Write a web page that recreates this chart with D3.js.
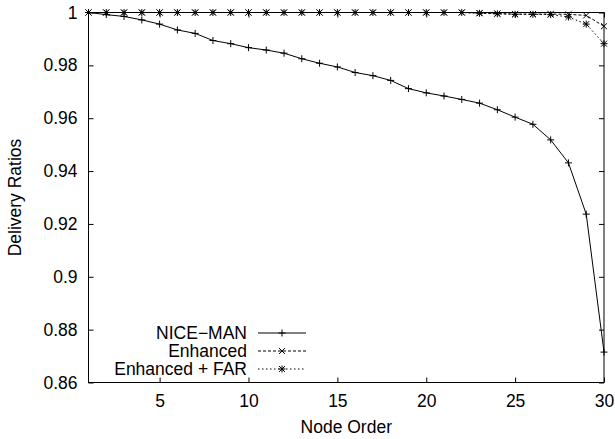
<!DOCTYPE html>
<html>
<head>
<meta charset="utf-8">
<script src="https://cdn.jsdelivr.net/npm/d3@7"></script>
<style>
  body { margin: 0; background: #fff; }
  text { font-family: "Liberation Sans", Arial, sans-serif; font-size: 17.5px; fill: #000; }
</style>
</head>
<body>
<svg id="chart"></svg>
<script>
// node order 1..30
var nodes = d3.range(1, 31);

// values
var niceMan = [1.0, 0.9992, 0.9985, 0.9972, 0.9956, 0.9934, 0.9921, 0.9894, 0.9882, 0.9867,
               0.9858, 0.9846, 0.9825, 0.9808, 0.9794, 0.9773, 0.9761, 0.9743, 0.9712, 0.9696,
               0.9684, 0.9671, 0.9657, 0.9632, 0.9604, 0.9577, 0.9518, 0.9431, 0.9237, 0.8715];
var enhanced = [1, 1, 1, 1, 1, 1, 1, 1, 1, 1,
                1, 1, 1, 1, 1, 1, 1, 1, 1, 1,
                1, 1, 0.9998, 0.9996, 0.9994, 0.9994, 0.9994, 0.9993, 0.9989, 0.9948];
var enhancedFar = [1, 1, 1, 1, 1, 1, 1, 1, 1, 1,
                   1, 1, 1, 1, 1, 1, 1, 1, 1, 1,
                   1, 1, 0.9997, 0.9995, 0.9993, 0.9993, 0.9992, 0.9983, 0.9956, 0.9882];

var xTicks = [5, 10, 15, 20, 25, 30];
var yTicks = [0.86, 0.88, 0.9, 0.92, 0.94, 0.96, 0.98, 1];

var seriesNames = ["NICE\u2212MAN", "Enhanced", "Enhanced + FAR"];
var seriesData = [niceMan, enhanced, enhancedFar];
var dashes = [null, "3,2", "1.5,2.5"];
var markers = ["plus", "cross", "star"];

var W = 615, H = 439;
var pLeft = 88.5, pRight = 604, pTop = 12.5, pBottom = 382.5;

var svg = d3.select("#chart").attr("width", W).attr("height", H);

var x = d3.scaleLinear().domain([1, 30]).range([pLeft, pRight]);
var y = d3.scaleLinear().domain([0.86, 1]).range([pBottom, pTop]);

// axes, ticks point inwards, mirrored on top / right
function styleAxis(g) {
  g.select(".domain").remove();
  g.selectAll("line").attr("stroke", "#000");
  g.selectAll("text").style("font-size", "17.5px").attr("fill", "#000");
}

svg.append("g")
  .attr("transform", "translate(0," + pBottom + ")")
  .call(d3.axisBottom(x).tickValues(xTicks).tickSize(-5).tickPadding(12).tickFormat(d3.format("d")))
  .call(styleAxis);

svg.append("g")
  .attr("transform", "translate(0," + pTop + ")")
  .call(d3.axisTop(x).tickValues(xTicks).tickSize(-5).tickFormat(""))
  .call(styleAxis);

svg.append("g")
  .attr("transform", "translate(" + pLeft + ",0)")
  .call(d3.axisLeft(y).tickValues(yTicks).tickSize(-5).tickPadding(11).tickFormat(function (d) { return String(+d.toFixed(2)); }))
  .call(styleAxis);

svg.append("g")
  .attr("transform", "translate(" + pRight + ",0)")
  .call(d3.axisRight(y).tickValues(yTicks).tickSize(-5).tickFormat(""))
  .call(styleAxis);

// marker path
function markerPath(type, cx, cy) {
  var s = 3.5, p = "";
  if (type === "plus" || type === "star") {
    p += "M" + (cx - s) + "," + cy + "H" + (cx + s) + "M" + cx + "," + (cy - s) + "V" + (cy + s);
  }
  if (type === "cross" || type === "star") {
    var c = s * 0.85;
    p += "M" + (cx - c) + "," + (cy - c) + "L" + (cx + c) + "," + (cy + c) +
         "M" + (cx - c) + "," + (cy + c) + "L" + (cx + c) + "," + (cy - c);
  }
  return p;
}

var line = d3.line().x(function (d) { return x(d[0]); }).y(function (d) { return y(d[1]); });

seriesData.forEach(function (vals, i) {
  var pts = nodes.map(function (n, j) { return [n, vals[j]]; });
  svg.append("path")
    .datum(pts)
    .attr("d", line)
    .attr("fill", "none")
    .attr("stroke", "#000")
    .attr("stroke-width", 1)
    .attr("stroke-dasharray", dashes[i]);
  svg.append("g").selectAll("path")
    .data(pts)
    .enter()
    .append("path")
    .attr("d", function (d) { return markerPath(markers[i], x(d[0]), y(d[1])); })
    .attr("stroke", "#000")
    .attr("stroke-width", 1)
    .attr("fill", "none");
});

// border
svg.append("rect")
  .attr("x", pLeft).attr("y", pTop)
  .attr("width", pRight - pLeft).attr("height", pBottom - pTop)
  .attr("fill", "none").attr("stroke", "#000").attr("stroke-width", 1);

// legend
var legend = svg.append("g");
seriesNames.forEach(function (name, i) {
  var ly = 333 + i * 18;
  legend.append("text")
    .attr("x", 247).attr("y", ly)
    .attr("dy", "0.36em")
    .attr("text-anchor", "end")
    .text(name);
  legend.append("line")
    .attr("x1", 258).attr("x2", 306)
    .attr("y1", ly).attr("y2", ly)
    .attr("stroke", "#000")
    .attr("stroke-dasharray", dashes[i]);
  legend.append("path")
    .attr("d", markerPath(markers[i], 282, ly))
    .attr("stroke", "#000")
    .attr("fill", "none");
});

// axis titles
svg.append("text")
  .attr("x", (pLeft + pRight) / 2)
  .attr("y", 433)
  .attr("text-anchor", "middle")
  .text("Node Order");

svg.append("text")
  .attr("transform", "translate(21," + ((pTop + pBottom) / 2) + ") rotate(-90)")
  .attr("text-anchor", "middle")
  .text("Delivery Ratios");
</script>
</body>
</html>
